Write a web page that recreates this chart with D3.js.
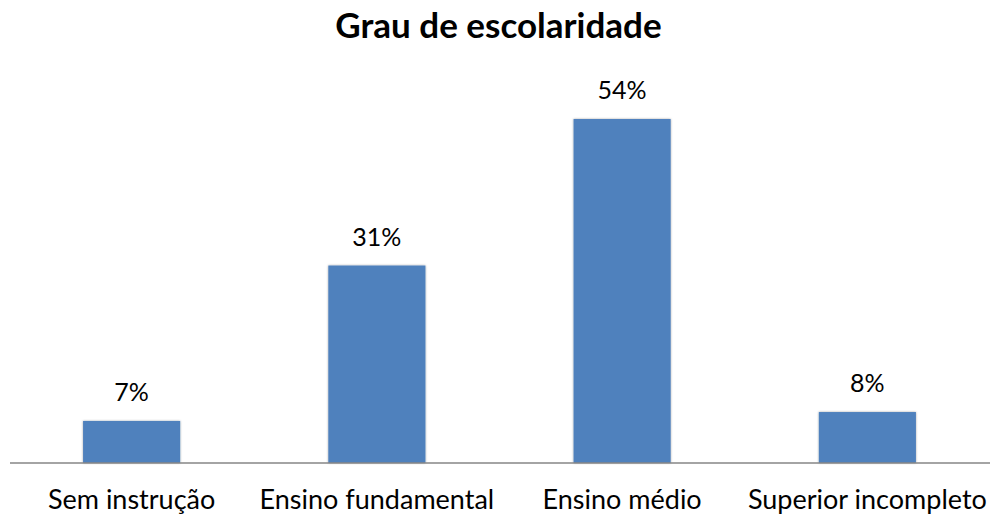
<!DOCTYPE html>
<html>
<head>
<meta charset="utf-8">
<script src="https://cdn.jsdelivr.net/npm/d3@7"></script>
<style>
  html, body { margin: 0; padding: 0; background: #fff; }
  svg { display: block; }
</style>
</head>
<body>
<svg id="chart" width="995" height="517"></svg>
<script>
const title = "Grau de escolaridade";
const categories = ["Sem instrução", "Ensino fundamental", "Ensino médio", "Superior incompleto"];
const values = [6.6, 31, 54, 8];
const valueLabels = ["7%", "31%", "54%", "8%"];

const W = 995, H = 517;
const baseY = 463;
const FONT = "Lato, 'Open Sans', sans-serif";

const svg = d3.select("#chart");

const defs = svg.append("defs");
const f = defs.append("filter").attr("id", "shadow").attr("x", "-10%").attr("y", "-10%").attr("width", "120%").attr("height", "120%");
f.append("feDropShadow").attr("dx", 0).attr("dy", 0).attr("stdDeviation", 1.2).attr("flood-color", "#000").attr("flood-opacity", 0.35);

const x = d3.scaleBand()
  .domain(categories)
  .range([9, 990])
  .paddingInner(0.604)
  .paddingOuter(0.302);

const y = d3.scaleLinear()
  .domain([0, 60])
  .range([baseY, baseY - 60 * 6.37]);

// bars
svg.append("g").selectAll("rect")
  .data(values)
  .join("rect")
  .attr("x", (d, i) => x(categories[i]))
  .attr("y", d => y(d))
  .attr("width", x.bandwidth())
  .attr("height", d => y(0) - y(d))
  .attr("fill", "#4F81BD")
  .attr("filter", "url(#shadow)");

// axis
const axis = d3.axisBottom(x).tickSize(0).tickPadding(0);
const gAxis = svg.append("g").attr("transform", `translate(0,${baseY})`).call(axis);
gAxis.select(".domain").attr("stroke", "#868686").attr("stroke-width", 1.3)
  .attr("d", "M10,0H990");
gAxis.selectAll(".tick text")
  .attr("y", 46)
  .attr("dy", null)
  .attr("font-family", FONT)
  .attr("font-size", 27)
  .attr("fill", "#000");

// value labels
svg.append("g").selectAll("text")
  .data(values)
  .join("text")
  .attr("x", (d, i) => x(categories[i]) + x.bandwidth() / 2)
  .attr("y", d => y(d) - 20)
  .attr("text-anchor", "middle")
  .attr("font-family", FONT)
  .attr("font-size", 25)
  .attr("fill", "#000")
  .text((d, i) => valueLabels[i]);

// title
svg.append("text")
  .attr("x", 498.5)
  .attr("y", 38)
  .attr("text-anchor", "middle")
  .attr("font-family", FONT)
  .attr("font-weight", "bold")
  .attr("font-size", 35)
  .attr("fill", "#000")
  .text(title);
</script>
</body>
</html>
